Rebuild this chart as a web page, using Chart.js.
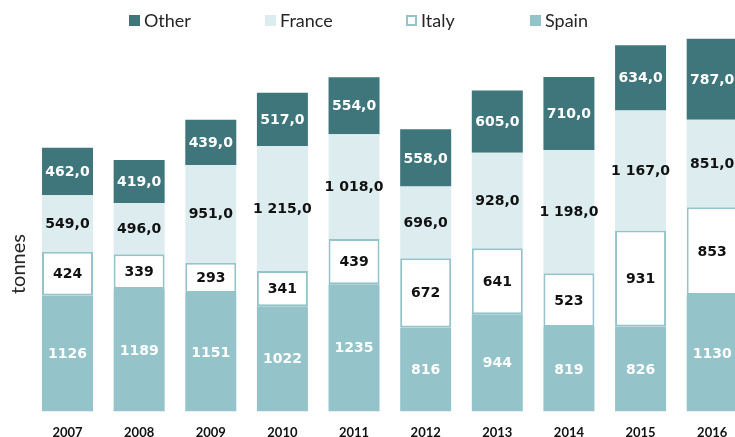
<!DOCTYPE html>
<html><head><meta charset="utf-8">
<script src="https://cdn.jsdelivr.net/npm/chart.js@4.4.1/dist/chart.umd.min.js"></script>
<style>
html,body{margin:0;padding:0;overflow:hidden;background:#fff;width:735px;height:437px;}
#wrap{position:absolute;left:0;top:0;width:748px;height:455px;}
#legend{position:absolute;left:0;top:0;width:735px;height:34px;font-family:Lato,"Liberation Sans",sans-serif;font-size:18px;color:#262626;z-index:2;}
.lbox{position:absolute;top:15px;width:11px;height:11px;box-sizing:border-box;}
.ltxt{position:absolute;top:11px;line-height:18px;white-space:nowrap;}
#ytitle{position:absolute;left:17px;top:264px;transform:translate(-50%,-50%) rotate(-90deg);font-family:Lato,"Liberation Sans",sans-serif;font-size:20px;color:#262626;white-space:nowrap;z-index:2;}
</style></head>
<body>
<div id="wrap"><canvas id="c" width="748" height="455"></canvas></div>
<div id="legend"></div>
<div id="ytitle">tonnes</div>
<script>
const years = ['2007','2008','2009','2010','2011','2012','2013','2014','2015','2016'];
const spain  = [1126,1189,1151,1022,1235,816,944,819,826,1130];
const italy  = [424,339,293,341,439,672,641,523,931,853];
const france = [549,496,951,1215,1018,696,928,1198,1167,851];
const other  = [462,419,439,517,554,558,605,710,634,787];
const seriesNames = ['Spain','Italy','France','Other'];

const colSpain = '#94C3C9', colFrance = '#DDEDEF', colOther = '#3F767C';
const labelColors = ['#ffffff','#111111','#111111','#ffffff'];
const decimals = [0,0,1,1];
const legendLeft = {Other:129, France:265, Italy:406, Spain:530};
const legendOrder = ['Other','France','Italy','Spain'];

function fmt(v, d){
  let s = v.toFixed(d);
  let parts = s.split('.');
  let ip = parts[0].replace(/\B(?=(\d{3})+(?!\d))/g, ' ');
  return d > 0 ? ip + ',' + parts[1] : parts[0];
}

const datasets = [
  {label: seriesNames[0], data: spain, backgroundColor: colSpain, borderWidth: 0},
  {label: seriesNames[1], data: italy, backgroundColor: '#ffffff', borderColor: colSpain, borderWidth: 2, borderSkipped: false},
  {label: seriesNames[2], data: france, backgroundColor: colFrance, borderWidth: 0},
  {label: seriesNames[3], data: other, backgroundColor: colOther, borderWidth: 0}
];

const valuePlugin = {
  id: 'values',
  afterDatasetsDraw(chart){
    const ctx = chart.ctx;
    chart.data.datasets.forEach((ds, i) => {
      const meta = chart.getDatasetMeta(i);
      meta.data.forEach((bar, j) => {
        ctx.save();
        ctx.font = 'bold 14px "DejaVu Sans", Verdana, sans-serif';
        ctx.fillStyle = labelColors[i];
        ctx.textAlign = 'center';
        ctx.textBaseline = 'middle';
        ctx.fillText(fmt(ds.data[j], decimals[i]), bar.x, (bar.y + bar.base) / 2 + 1);
        ctx.restore();
      });
    });
  }
};

const chart = new Chart(document.getElementById('c'), {
  type: 'bar',
  data: {labels: years, datasets: datasets},
  options: {
    responsive: false,
    animation: false,
    layout: {padding: {left: 31.7, top: 10, right: 0, bottom: 0}},
    plugins: {legend: {display: false}, tooltip: {enabled: false}},
    datasets: {bar: {barPercentage: 0.712, categoryPercentage: 1}},
    scales: {
      x: {
        stacked: true,
        grid: {display: false, drawTicks: false},
        border: {display: false},
        ticks: {color: '#111', font: {family: 'Lato, "Liberation Sans", sans-serif', weight: 'bold', size: 13}, padding: 14}
      },
      y: {stacked: true, display: false, min: 0, max: 3900}
    }
  },
  plugins: [valuePlugin]
});

// legend built from the chart datasets
const leg = document.getElementById('legend');
legendOrder.forEach(name => {
  const ds = chart.data.datasets.find(d => d.label === name);
  const b = document.createElement('div');
  b.className = 'lbox';
  b.style.left = legendLeft[name] + 'px';
  b.style.background = ds.backgroundColor;
  if (ds.borderWidth) b.style.border = '2px solid ' + ds.borderColor;
  leg.appendChild(b);
  const t = document.createElement('div');
  t.className = 'ltxt';
  t.style.left = (legendLeft[name] + 15) + 'px';
  t.textContent = name;
  leg.appendChild(t);
});
</script>
</body></html>
